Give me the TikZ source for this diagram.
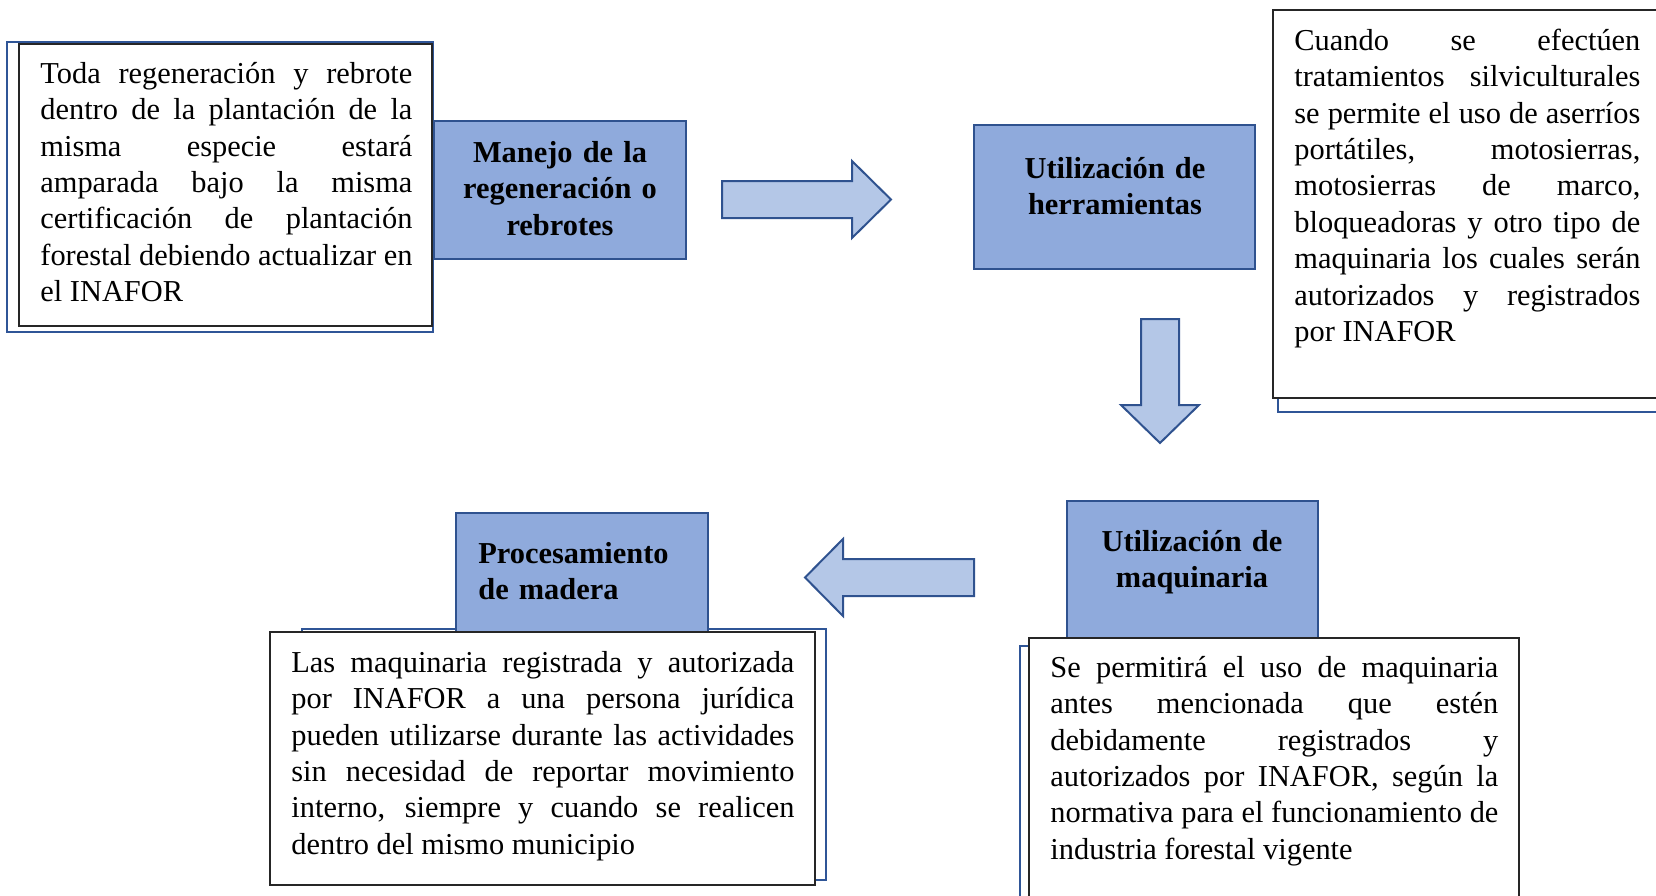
\documentclass[tikz,border=0pt]{standalone}
\usepackage{fontspec}
\setmainfont{Liberation Serif}
\usetikzlibrary{fit}
\setlength\parindent{0pt}
\tolerance=10000
\hyphenpenalty=10000
\definecolor{hdfill}{HTML}{8FAADC}
\definecolor{hddraw}{HTML}{2F528F}
\definecolor{arfill}{HTML}{B4C7E7}
\definecolor{frameblue}{HTML}{2F5597}
\begin{document}
\begin{tikzpicture}[x=0.5pt,y=-0.5pt,
  bodytext/.style={anchor=north west, inner sep=0pt, align=justify,
    font=\fontsize{15.2}{18.2}\selectfont},
  headtext/.style={inner sep=0pt, font=\fontsize{15.2}{18.2}\selectfont\bfseries},
  txtbox/.style={draw=black!85, line width=0.7pt, fill=white, inner sep=0pt},
  backframe/.style={draw=frameblue, line width=1pt, inner sep=0pt},
  headbox/.style={draw=hddraw, line width=1.2pt, fill=hdfill, inner sep=0pt},
  blockarrow/.style={draw=hddraw, line width=1pt, fill=arfill, line join=miter}]
\useasboundingbox (0,0) rectangle (1656,895);
\clip (0,0) rectangle (1656,895);
% back frames
\node[backframe, fit={(7,42) (433,332)}] (f1) {};
\node[backframe, fit={(1278,30) (1680,412)}] (f2) {};
\node[backframe, fit={(302,629) (826,880)}] (f3) {};
\node[backframe, fit={(1020,646) (1515,920)}] (f4) {};
% heading boxes
\node[headbox, fit={(434,121) (686,259)}] (h1) {};
\node[headbox, fit={(974,125) (1255,269)}] (h2) {};
\node[headbox, fit={(1067,501) (1318,638)}] (h3) {};
\node[headbox, fit={(456,513) (708,632)}] (h4) {};
% text boxes
\node[txtbox, fit={(19,44) (432,326)}] (b1) {};
\node[txtbox, fit={(1273,10) (1680,398)}] (b2) {};
\node[txtbox, fit={(1029,638) (1519,920)}] (b3) {};
\node[txtbox, fit={(270,632) (815,885)}] (b4) {};
% body texts
\node[bodytext, text width=186pt] (t1) at (40,57.5) {\strut Toda regeneración y rebrote\linebreak dentro de la plantación de la\linebreak misma especie estará\linebreak amparada bajo la misma\linebreak certificación de plantación\linebreak forestal debiendo actualizar en\linebreak el INAFOR};
\node[bodytext, text width=173pt] (t2) at (1294,24.5) {\strut Cuando se efectúen\linebreak tratamientos silviculturales\linebreak se permite el uso de aserríos\linebreak portátiles, motosierras,\linebreak motosierras de marco,\linebreak bloqueadoras y otro tipo de\linebreak maquinaria los cuales serán\linebreak autorizados y registrados\linebreak por INAFOR};
\node[bodytext, text width=224pt] (t3) at (1050,651.5) {\strut Se permitirá el uso de maquinaria\linebreak antes mencionada que estén\linebreak debidamente registrados y\linebreak autorizados por INAFOR, según la\linebreak normativa para el funcionamiento de\linebreak industria forestal vigente};
\node[bodytext, text width=251.5pt] (t4) at (291,646.5) {\strut Las maquinaria registrada y autorizada\linebreak por INAFOR a una persona jurídica\linebreak pueden utilizarse durante las actividades\linebreak sin necesidad de reportar movimiento\linebreak interno, siempre y cuando se realicen\linebreak dentro del mismo municipio};
% heading texts
\node[headtext, anchor=north, text width=124pt, align=center] (ht1) at (560,136.5) {\strut Manejo de la\\ regeneración o\\ rebrotes};
\node[headtext, anchor=north, text width=136pt, align=center] (ht2) at (1115,152.5) {\strut Utilización de\\ herramientas};
\node[headtext, anchor=north, text width=122pt, align=center] (ht3) at (1192,525.5) {\strut Utilización de\\ maquinaria};
\node[headtext, anchor=north west, text width=120pt, align=left] (ht4) at (478,537.5) {\strut Procesamiento\\ de madera};
% block arrows
\draw[blockarrow] (722,181) -- (852,181) -- (852,161) -- (891,199.5) -- (852,238) -- (852,218) -- (722,218) -- cycle;
\draw[blockarrow] (1141,319) -- (1179,319) -- (1179,405) -- (1199,405) -- (1160,443) -- (1121,405) -- (1141,405) -- cycle;
\draw[blockarrow] (974,559) -- (843,559) -- (843,539) -- (805,577.5) -- (843,616) -- (843,596) -- (974,596) -- cycle;
\end{tikzpicture}
\end{document}
